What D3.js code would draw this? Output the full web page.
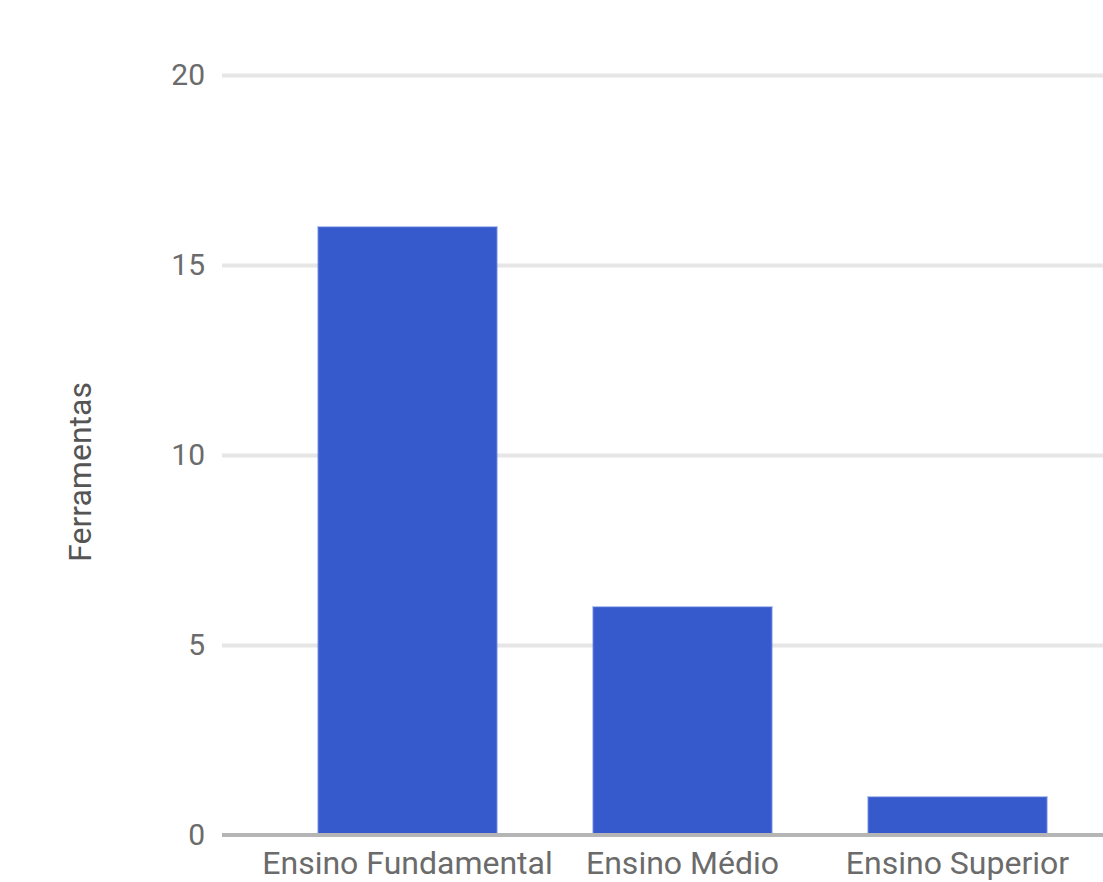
<!DOCTYPE html>
<html>
<head>
<meta charset="utf-8">
<script src="https://cdn.jsdelivr.net/npm/d3@7"></script>
<style>
  html, body { margin: 0; padding: 0; background: #fff; }
  svg { display: block; }
</style>
</head>
<body>
<svg id="chart" width="1103" height="882"></svg>
<script>
const categories = ["Ensino Fundamental", "Ensino Médio", "Ensino Superior"];
const values = [16, 6, 1];
const yTicks = [0, 5, 10, 15, 20];
const yTitle = "Ferramentas";

const svg = d3.select("#chart");
const plotLeft = 222, plotRight = 1103;
const yTop = 75, yBottom = 835;

const x = d3.scaleBand()
  .domain(categories)
  .range([270, 1095])
  .paddingInner(0.35)
  .paddingOuter(0.175);

const y = d3.scaleLinear().domain([0, 20]).range([yBottom, yTop]);

// gridlines
const grid = svg.append("g")
  .attr("transform", `translate(${plotLeft},0)`)
  .call(d3.axisLeft(y).tickValues(yTicks.filter(d => d !== 0)).tickSize(-(plotRight - plotLeft)).tickFormat(""));
grid.select(".domain").remove();
grid.selectAll("line").attr("stroke", "#e6e6e6").attr("stroke-width", 4);

// y tick labels
const yAxis = svg.append("g")
  .attr("transform", `translate(${plotLeft},0)`)
  .call(d3.axisLeft(y).tickValues(yTicks).tickSize(0).tickPadding(17));
yAxis.select(".domain").remove();
yAxis.selectAll("text")
  .attr("font-family", "Roboto, Arial, sans-serif")
  .attr("font-size", 30)
  .attr("fill", "#6b6b6b");

// bars
svg.append("g").selectAll("rect")
  .data(values)
  .join("rect")
  .attr("x", (d, i) => x(categories[i]))
  .attr("y", d => y(d))
  .attr("width", x.bandwidth())
  .attr("height", d => y(0) - y(d))
  .attr("fill", "#3659cc")
  .attr("stroke", "rgba(90,120,220,0.45)")
  .attr("stroke-width", 2);

// baseline
svg.append("line")
  .attr("x1", plotLeft).attr("x2", plotRight)
  .attr("y1", y(0)).attr("y2", y(0))
  .attr("stroke", "#b5b5b5").attr("stroke-width", 4);

// x axis labels
const xAxis = svg.append("g")
  .attr("transform", `translate(0,${y(0)})`)
  .call(d3.axisBottom(x).tickSize(0).tickPadding(16));
xAxis.select(".domain").remove();
xAxis.selectAll("text")
  .attr("font-family", "Roboto, Arial, sans-serif")
  .attr("font-size", 32)
  .attr("fill", "#6b6b6b");

// y title
svg.append("text")
  .attr("transform", `translate(91,472) rotate(-90)`)
  .attr("text-anchor", "middle")
  .attr("font-family", "Roboto, Arial, sans-serif")
  .attr("font-size", 32)
  .attr("fill", "#555")
  .text(yTitle);
</script>
</body>
</html>
